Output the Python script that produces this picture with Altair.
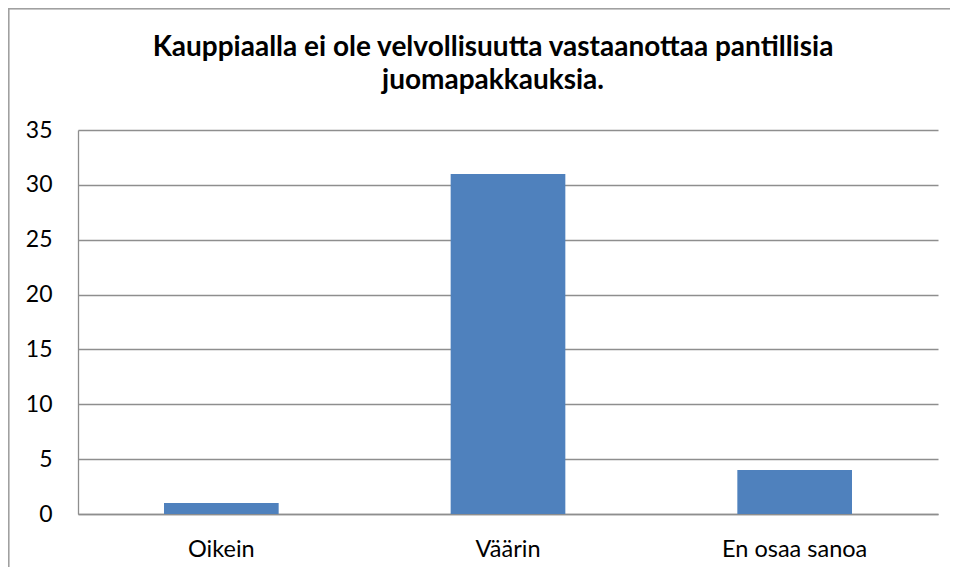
import altair as alt
import pandas as pd

categories = ["Oikein", "Väärin", "En osaa sanoa"]
values = [1, 31, 4]
y_ticks = [0, 5, 10, 15, 20, 25, 30, 35]
title_lines = ["Kauppiaalla ei ole velvollisuutta vastaanottaa pantillisia", "juomapakkauksia."]

df = pd.DataFrame({"cat": categories, "val": values})

FONT = "Lato"
GRID = "#8E8E8E"

bars = alt.Chart(df).mark_bar(color="#4F81BD").encode(
    x=alt.X("cat:N", sort=categories,
            scale=alt.Scale(paddingInner=0.6, paddingOuter=0.3),
            axis=alt.Axis(title=None, labelAngle=0, ticks=False, labelPadding=42,
                          labelBaseline="alphabetic", labelFontSize=23.5, labelFont=FONT,
                          labelColor="black", domainColor=GRID, domainWidth=1.3)),
    y=alt.Y("val:Q", scale=alt.Scale(domain=[0, 35], nice=False),
            axis=alt.Axis(title=None, values=y_ticks, ticks=False, labelPadding=26,
                          labelFontSize=23, labelFont=FONT, labelColor="black",
                          gridColor=GRID, gridWidth=1.3, domainColor=GRID, domainWidth=1.3)),
)

left_border = alt.Chart(df).mark_rule(color="#A0A0A0", strokeWidth=1.5).encode(
    x=alt.value(-69.5), y=alt.value(-122), y2=alt.value(437)
)
top_border = alt.Chart(df).mark_rule(color="#A0A0A0", strokeWidth=1.5).encode(
    x=alt.value(-70), x2=alt.value(872), y=alt.value(-121.5)
)

chart = alt.layer(bars, left_border, top_border).properties(
    width=860,
    height=384,
    autosize=alt.AutoSizeParams(type="none"),
    padding={"left": 70, "top": 122, "right": 12, "bottom": 53},
    title=alt.TitleParams(text=title_lines, font=FONT, fontSize=28, fontWeight="bold",
                          color="black", anchor="middle", frame="group", dx=-15,
                          offset=-88, lineHeight=33),
).configure_view(stroke=None)

chart.save("out.html", embed_options={"renderer": "svg", "actions": False})
